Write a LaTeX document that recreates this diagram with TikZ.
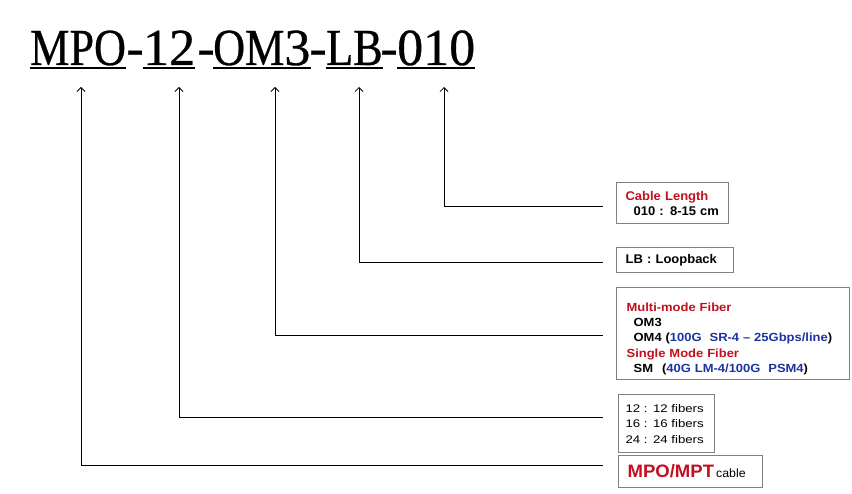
\documentclass[tikz,border=0pt]{standalone}
\usepackage{fontspec}
\setmainfont{Liberation Sans}
\newfontfamily\titleletters[FakeStretch=0.85,FakeBold=0.6]{Liberation Serif}
\newfontfamily\titledigits[FakeBold=0.6]{Liberation Serif}
\newfontfamily\boxfont[FakeStretch=1.03]{Liberation Sans}
\newfontfamily\fiberfont[FakeStretch=1.1]{Liberation Sans}
\newfontfamily\countfont[FakeStretch=1.2]{Liberation Sans}
\usetikzlibrary{arrows.meta,positioning}
\definecolor{tagred}{RGB}{192,16,32}
\definecolor{tagblue}{RGB}{28,52,160}
\definecolor{boxgray}{RGB}{128,128,128}
\tikzset{part/.style={anchor=base west,inner sep=0pt,font=\titledigits\fontsize{52}{52}\selectfont},
         sep part/.style={anchor=base,inner sep=0pt,font=\titledigits\fontsize{52}{52}\selectfont},
         uline/.style={line width=2pt},
         tag box/.style={draw=boxgray,line width=1.2pt,anchor=north west,inner ysep=0pt,align=left},
         link/.style={-{Straight Barb[length=4pt,width=8pt]},line width=0.8pt}
}

\begin{document}
\begin{tikzpicture}[x=1pt,y=-1pt]
\useasboundingbox (0,0) rectangle (852,494);
% part number
\node[part] (mpo) at (30,65) {\titleletters MPO};
\node[sep part] (sep1) at (135,65) {-};
\node[part] (n12) at (143,65) {12};
\node[sep part] (sep2) at (206,65) {-};
\node[part] (om3) at (213,65) {{\titleletters OM}3};
\node[sep part] (sep3) at (318,65) {-};
\node[part] (lb) at (326,65) {\titleletters LB};
\node[sep part] (sep4) at (389,65) {-};
\node[part] (len) at (397,65) {010};
\foreach \p in {mpo,n12,om3,lb,len}
    \draw[uline] ([yshift=-3pt]\p.base west) -- ([yshift=-3pt]\p.base east);

\coordinate (tip mpo) at (81,87);
\coordinate (tip n12) at (179,87);
\coordinate (tip om3) at (275,87);
\coordinate (tip lb) at (359,87);
\coordinate (tip len) at (444,87);

% explanation boxes
\node[tag box,inner xsep=9pt,text width=94pt,minimum height=41pt,
      font=\boxfont\bfseries\fontsize{12.6}{15}\selectfont] (len box) at (616,182)
    {\textcolor{tagred}{Cable Length}\\\hspace*{8pt}010 : 8-15 cm};
\node[tag box,inner xsep=9pt,text width=99pt,minimum height=25pt,
      font=\boxfont\bfseries\fontsize{12.6}{15}\selectfont] (lb box) at (616,247)
    {LB : Loopback};
\node[tag box,inner xsep=10pt,text width=213pt,minimum height=92pt,
      font=\fiberfont\bfseries\fontsize{11.8}{15.4}\selectfont] (om3 box) at (616,287)
    {\rule{0pt}{19pt}\textcolor{tagred}{Multi-mode Fiber}\\
     \hspace*{7pt}OM3\\
     \hspace*{7pt}OM4 (\textcolor{tagblue}{100G\ \ SR-4 – 25Gbps/line})\\
     \textcolor{tagred}{Single Mode Fiber}\\
     \hspace*{7pt}SM\hspace{9pt}(\textcolor{tagblue}{40G LM-4/100G\ \ PSM4})};
\node[tag box,inner xsep=7pt,text width=82pt,minimum height=58pt,
      font=\countfont\fontsize{11}{15.5}\selectfont] (n12 box) at (618,394)
    {12 : 12 fibers\\16 : 16 fibers\\24 : 24 fibers};
\node[tag box,inner xsep=9pt,text width=126pt,minimum height=32pt] (mpo box) at (618,455)
    {\textcolor{tagred}{\boxfont\bfseries\fontsize{18}{20}\selectfont MPO/MPT}%
     {\boxfont\fontsize{12}{14}\selectfont\,cable}};

\draw[link] ([xshift=-13pt,yshift=-3.5pt]len box.west) -| (tip len);
\draw[link] ([xshift=-13pt,yshift=-2.5pt]lb box.west) -| (tip lb);
\draw[link] ([xshift=-13pt,yshift=-2pt]om3 box.west) -| (tip om3);
\draw[link] ([xshift=-15pt,yshift=6pt]n12 box.west) -| (tip n12);
\draw[link] ([xshift=-15pt,yshift=6pt]mpo box.west) -| (tip mpo);

\end{tikzpicture}
\end{document}
